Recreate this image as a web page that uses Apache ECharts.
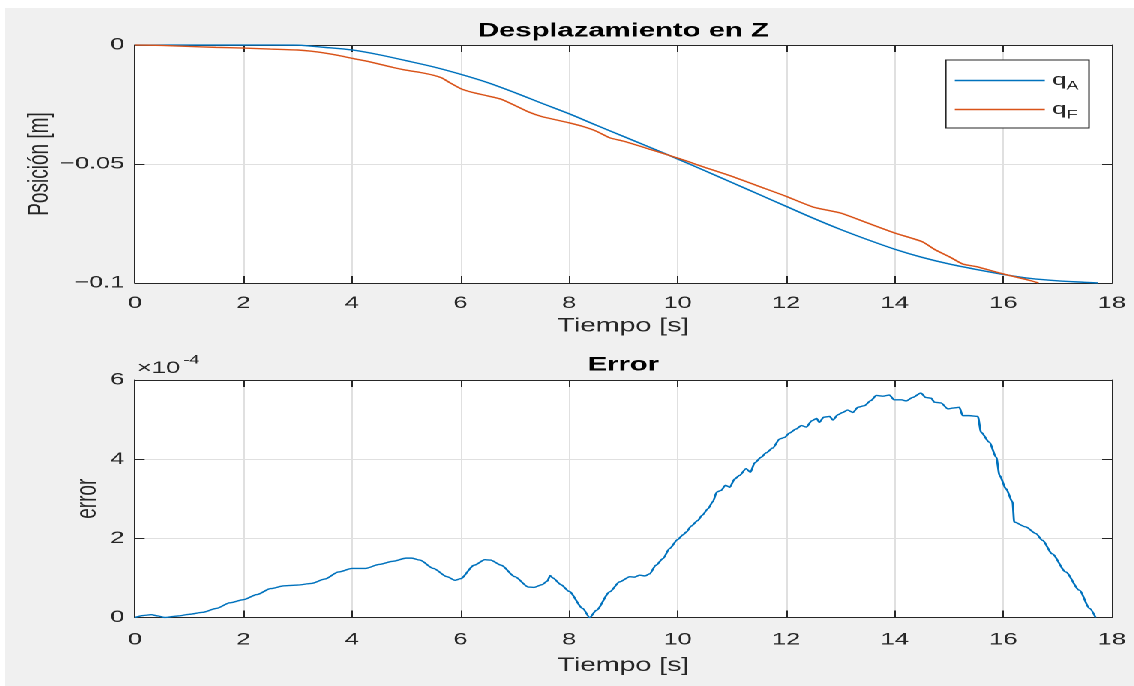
<!DOCTYPE html>
<html>
<head>
<meta charset="utf-8">
<script src="https://cdn.jsdelivr.net/npm/echarts@6/dist/echarts.min.js"></script>
<style>
  html, body { margin: 0; padding: 0; width: 1134px; height: 686px; overflow: hidden; background: #ffffff; }
  /* figure window: drawn narrow, then widened horizontally */
  #fig { position: absolute; left: 5px; top: 8px; width: 753px; height: 678px;
         background: #f0f0f0; transform: scaleX(1.5); transform-origin: 0 0; }
</style>
</head>
<body>
<div id="fig"></div>
<script>
// ---- Desplazamiento en Z: reference trajectory q_A ----
const timeQA = [0, 1, 2, 2.5, 3, 3.5, 4, 4.5, 5, 5.5, 6, 6.5, 7, 7.5, 8, 8.5, 9, 9.5, 10,
  10.5, 11, 11.5, 12, 12.5, 13, 13.5, 14, 14.5, 15, 15.5, 16, 16.5, 17, 17.5, 17.75];
const qA = [0, 0, 0, 0, -0.0001, -0.0010, -0.0021, -0.0041, -0.0066, -0.0092, -0.0123, -0.0158,
  -0.0200, -0.0245, -0.0289, -0.0337, -0.0384, -0.0431, -0.0479, -0.0528, -0.0578, -0.0628,
  -0.0678, -0.0728, -0.0775, -0.0818, -0.0858, -0.0892, -0.0920, -0.0943, -0.0964, -0.0981,
  -0.0991, -0.0997, -0.1];

// ---- Desplazamiento en Z: measured trajectory q_F ----
const timeQF = [0, 0.5, 1, 1.5, 2, 2.5, 3, 3.25, 3.5, 3.75, 4, 4.25, 4.5, 4.75, 5, 5.25, 5.5,
  5.65, 5.8, 6, 6.2, 6.5, 6.75, 7, 7.25, 7.5, 7.75, 8, 8.25, 8.5, 8.75, 9, 9.5, 10, 10.5, 11,
  11.5, 12, 12.5, 13, 13.5, 14, 14.5, 14.75, 15, 15.25, 15.5, 16, 16.5, 16.65];
const qF = [0, -0.0002, -0.0006, -0.0010, -0.0013, -0.0017, -0.0021, -0.0026, -0.0034, -0.0044,
  -0.0056, -0.0067, -0.0080, -0.0094, -0.0106, -0.0115, -0.0127, -0.0138, -0.0158, -0.0183,
  -0.0198, -0.0214, -0.0228, -0.0254, -0.0281, -0.0301, -0.0314, -0.0327, -0.0342, -0.0362,
  -0.0390, -0.0404, -0.0439, -0.0475, -0.0514, -0.0552, -0.0594, -0.0636, -0.0681, -0.0706,
  -0.0748, -0.0790, -0.0826, -0.0861, -0.0889, -0.0920, -0.0931, -0.0962, -0.0990, -0.1];

// ---- Error (values in units of 1e-4) ----
const timeErr = [0, 0.15, 0.3, 0.42, 0.55, 0.8, 1.0, 1.25, 1.5, 1.75, 2.0, 2.25, 2.5, 2.75, 3.0,
  3.25, 3.5, 3.75, 4.0, 4.25, 4.5, 4.75, 5.0, 5.1, 5.25, 5.5, 5.75, 5.9, 6.0, 6.25, 6.45, 6.55,
  6.75, 7.0, 7.25, 7.35, 7.5, 7.6, 7.65, 7.7, 7.85, 8.0, 8.25, 8.38, 8.5, 8.75, 8.93, 9.12, 9.2,
  9.3, 9.4, 9.48, 9.6, 9.73, 9.85, 10.0, 10.1, 10.16, 10.25, 10.37, 10.45, 10.56, 10.65, 10.72,
  10.8, 10.88, 10.96, 11.05, 11.14, 11.26, 11.34, 11.42, 11.54, 11.63, 11.75, 11.88, 11.97,
  12.06, 12.18, 12.28, 12.37, 12.47, 12.56, 12.61, 12.69, 12.8, 12.86, 12.95, 13.04, 13.13,
  13.23, 13.32, 13.44, 13.56, 13.66, 13.78, 13.9, 13.99, 14.12, 14.21, 14.33, 14.48, 14.57,
  14.67, 14.73, 14.85, 14.98, 15.07, 15.19, 15.25, 15.37, 15.53, 15.59, 15.74, 15.87, 15.93,
  16.05, 16.17, 16.2, 16.41, 16.6, 16.72, 16.9, 17.15, 17.4, 17.59, 17.7];
const errE4 = [0, 0.05, 0.07, 0.04, 0, 0.04, 0.08, 0.13, 0.23, 0.37, 0.45, 0.58, 0.73, 0.80,
  0.82, 0.86, 0.97, 1.15, 1.24, 1.24, 1.34, 1.42, 1.50, 1.50, 1.45, 1.24, 1.03, 0.94, 0.98,
  1.32, 1.46, 1.45, 1.32, 1.03, 0.77, 0.76, 0.83, 0.92, 1.06, 1.00, 0.83, 0.66, 0.23, 0, 0.18,
  0.65, 0.90, 1.03, 1.02, 1.07, 1.05, 1.10, 1.32, 1.49, 1.74, 1.97, 2.09, 2.16, 2.31, 2.45,
  2.58, 2.75, 2.93, 3.17, 3.21, 3.34, 3.29, 3.50, 3.59, 3.76, 3.67, 3.91, 4.05, 4.16, 4.28,
  4.51, 4.55, 4.66, 4.76, 4.85, 4.81, 4.97, 5.03, 4.93, 5.06, 5.08, 4.99, 5.12, 5.18, 5.24,
  5.18, 5.31, 5.35, 5.48, 5.61, 5.59, 5.62, 5.50, 5.50, 5.47, 5.56, 5.67, 5.56, 5.54, 5.44,
  5.42, 5.27, 5.29, 5.31, 5.10, 5.10, 5.08, 4.68, 4.43, 4.05, 3.59, 3.25, 2.92, 2.41, 2.29,
  2.12, 1.95, 1.61, 1.15, 0.69, 0.23, 0];

// ---- tick labels ----
const timeTicks = ['0', '2', '4', '6', '8', '10', '12', '14', '16', '18'];
const posTicks = [-0.1, -0.05, 0];
const posTickLabels = ['\u22120.1', '\u22120.05', '0'];
const errTicks = ['0', '2', '4', '6'];
const seriesNames = ['q_A', 'q_F'];

const FONT = "'Liberation Sans', Arial, Helvetica, sans-serif";
const AX = '#262626';
const GRIDC = '#e0e0e0';
const BLUE = '#0072BD';
const ORANGE = '#D95319';

const pairs = (xs, ys) => xs.map((x, i) => [x, ys[i]]);

const tickLabel = { color: AX, fontFamily: FONT, fontSize: 17 };
const nameStyle = { color: AX, fontFamily: FONT, fontSize: 19 };

function xAxes(grid, labelMargin, nameGap) {
  return [{
    gridIndex: grid, type: 'value', min: 0, max: 18, interval: 2, position: 'bottom',
    axisLine: { show: true, onZero: false, lineStyle: { color: AX, width: 1 } },
    axisTick: { show: true, inside: true, length: 7, lineStyle: { color: AX } },
    axisLabel: Object.assign({ formatter: v => timeTicks[Math.round(v / 2)], margin: labelMargin }, tickLabel),
    splitLine: { show: true, lineStyle: { color: GRIDC, width: 1 } },
    name: 'Tiempo [s]', nameLocation: 'middle', nameGap: nameGap, nameMoveOverlap: false,
    nameTextStyle: nameStyle
  }, {
    gridIndex: grid, type: 'value', min: 0, max: 18, interval: 2, position: 'top',
    axisLine: { show: true, onZero: false, lineStyle: { color: AX, width: 1 } },
    axisTick: { show: true, inside: true, length: 7, lineStyle: { color: AX } },
    axisLabel: { show: false }, splitLine: { show: false }
  }];
}

function yAxes(grid, min, max, interval, fmt, name, gap) {
  return [{
    gridIndex: grid, type: 'value', min: min, max: max, interval: interval, position: 'left',
    axisLine: { show: true, onZero: false, lineStyle: { color: AX, width: 1 } },
    axisTick: { show: true, inside: true, length: 6.5, lineStyle: { color: AX } },
    axisLabel: Object.assign({ formatter: fmt, margin: 7 }, tickLabel),
    splitLine: { show: true, lineStyle: { color: GRIDC, width: 1 } },
    name: name, nameLocation: 'middle', nameGap: gap, nameMoveOverlap: false,
    nameTextStyle: nameStyle
  }, {
    gridIndex: grid, type: 'value', min: min, max: max, interval: interval, position: 'right',
    axisLine: { show: true, onZero: false, lineStyle: { color: AX, width: 1 } },
    axisTick: { show: true, inside: true, length: 6.5, lineStyle: { color: AX } },
    axisLabel: { show: false }, splitLine: { show: false }
  }];
}

const posFmt = v => {
  const i = posTicks.findIndex(t => Math.abs(t - v) < 1e-9);
  return i >= 0 ? posTickLabels[i] : '';
};
const errFmt = v => errTicks[Math.round(v / 2)];

const chart = echarts.init(document.getElementById('fig'), null, { renderer: 'canvas', devicePixelRatio: 2 });

chart.setOption({
  animation: false,
  backgroundColor: '#f0f0f0',
  title: [
    { text: 'Desplazamiento en Z', left: 412.3, top: 12, textAlign: 'center', padding: 0,
      textStyle: { fontFamily: FONT, fontSize: 19.5, fontWeight: 'bold', color: '#000', lineHeight: 22 } },
    { text: 'Error', left: 412.3, top: 346, textAlign: 'center', padding: 0,
      textStyle: { fontFamily: FONT, fontSize: 19.5, fontWeight: 'bold', color: '#000', lineHeight: 22 } }
  ],
  grid: [
    { left: 86.67, top: 37, width: 651.33, height: 238, show: true, backgroundColor: '#ffffff', borderWidth: 0 },
    { left: 86.67, top: 372, width: 651.33, height: 237.5, show: true, backgroundColor: '#ffffff', borderWidth: 0 }
  ],
  xAxis: [...xAxes(0, 12, 34), ...xAxes(1, 14, 39)],
  yAxis: [
    ...yAxes(0, -0.1, 0, 0.05, posFmt, 'Posición [m]', 54),
    ...yAxes(1, 0, 6, 2, errFmt, 'error', 22)
  ],
  legend: {
    data: seriesNames, orient: 'vertical', left: 627.3, top: 52,
    padding: [12, 7, 7, 6], itemGap: 9, itemWidth: 60, itemHeight: 23,
    icon: 'path://M0,10.8 L60,10.8 L60,12.2 L0,12.2 Z',
    backgroundColor: '#ffffff', borderColor: AX, borderWidth: 1, borderRadius: 0,
    selectedMode: false,
    formatter: n => '{q|q}{s|' + n.split('_')[1] + '}',
    textStyle: {
      color: AX, fontFamily: FONT, fontWeight: 'normal',
      rich: {
        q: { fontFamily: FONT, fontSize: 17, fontWeight: 'normal', lineHeight: 23, color: AX },
        s: { fontFamily: FONT, fontSize: 12, fontWeight: 'normal', lineHeight: 12, verticalAlign: 'bottom', color: AX }
      }
    }
  },
  graphic: [
    { type: 'text', x: 88, y: 360.5, silent: true,
      style: { text: '×10', font: '17px ' + FONT, fill: AX, align: 'left', verticalAlign: 'middle',
               textAlign: 'left', textVerticalAlign: 'middle' } },
    { type: 'text', x: 119, y: 352, silent: true,
      style: { text: '-4', font: '12px ' + FONT, fill: AX, align: 'left', verticalAlign: 'middle',
               textAlign: 'left', textVerticalAlign: 'middle' } }
  ],
  series: [
    { name: seriesNames[0], type: 'line', xAxisIndex: 0, yAxisIndex: 0, data: pairs(timeQA, qA),
      symbol: 'none', smooth: 0.3, lineStyle: { color: BLUE, width: 1.4 }, itemStyle: { color: BLUE } },
    { name: seriesNames[1], type: 'line', xAxisIndex: 0, yAxisIndex: 0, data: pairs(timeQF, qF),
      symbol: 'none', smooth: 0.2, lineStyle: { color: ORANGE, width: 1.4 }, itemStyle: { color: ORANGE } },
    { name: 'error', type: 'line', xAxisIndex: 2, yAxisIndex: 2, data: pairs(timeErr, errE4),
      symbol: 'none', smooth: 0.25, smoothMonotone: 'x', lineStyle: { color: BLUE, width: 1.4 }, itemStyle: { color: BLUE } }
  ]
});
</script>
</body>
</html>
